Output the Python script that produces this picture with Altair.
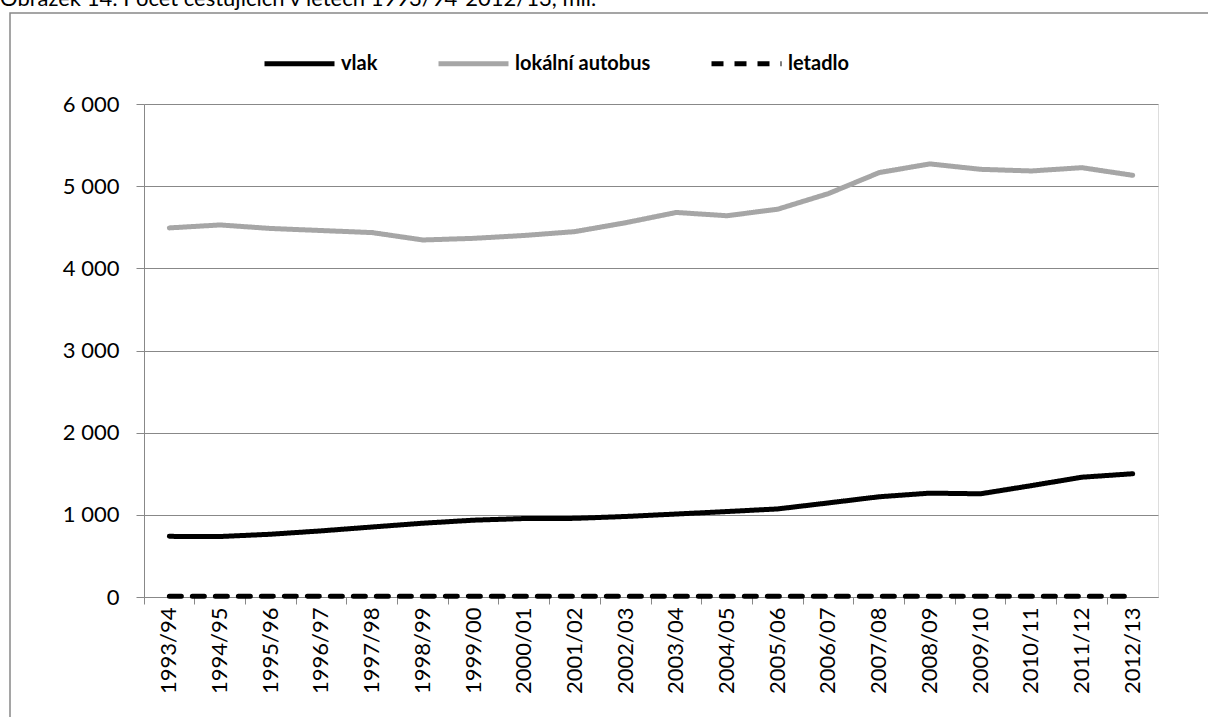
import altair as alt
import pandas as pd

seasons = ["1993/94", "1994/95", "1995/96", "1996/97", "1997/98", "1998/99",
           "1999/00", "2000/01", "2001/02", "2002/03", "2003/04", "2004/05",
           "2005/06", "2006/07", "2007/08", "2008/09", "2009/10", "2010/11",
           "2011/12", "2012/13"]
vlak = [738, 736, 764, 805, 852, 898, 935, 955, 957, 980, 1010, 1040,
        1072, 1145, 1220, 1264, 1256, 1355, 1458, 1500]
autobus = [4492, 4528, 4485, 4460, 4435, 4345, 4365, 4400, 4447, 4555,
           4680, 4640, 4720, 4910, 5165, 5271, 5205, 5185, 5225, 5132]
letadlo = [8, 8, 8, 9, 9, 9, 10, 10, 10, 10, 10, 10, 10, 10, 10, 10,
           9, 9, 9, 9]
series = ["vlak", "lokální autobus", "letadlo"]
title_text = "Obrázek 14: Počet cestujících v letech 1993/94-2012/13, mil."
y_ticks = [0, 1000, 2000, 3000, 4000, 5000, 6000]

rows = []
for name, vals in zip(series, [vlak, autobus, letadlo]):
    for s, v in zip(seasons, vals):
        rows.append({"rok": s, "serie": name, "hodnota": v})
df = pd.DataFrame(rows)

W, H = 1014, 493
FONT = "Lato"
GRAY = "#888888"

xscale = alt.Scale(type="band", domain=seasons, paddingInner=0, paddingOuter=0)
legend = alt.Legend(
    title=None, orient="none", legendX=118, legendY=-78, direction="horizontal",
    symbolType="stroke", symbolSize=4900, symbolStrokeWidth=5,
    labelFont=FONT, labelFontSize=20, labelFontWeight="bold", labelColor="black",
    labelOffset=4, columnPadding=50, padding=0,
)

lines = alt.Chart(df).mark_line(strokeWidth=5, strokeCap="round", strokeJoin="round").encode(
    x=alt.X("rok:N", scale=xscale, sort=seasons,
            axis=alt.Axis(title=None, orient="bottom", labelAngle=270, labelFont=FONT,
                          labelFontSize=22, labelColor="black", labelPadding=10, ticks=False,
                          domain=True, domainColor=GRAY, domainWidth=1, grid=False)),
    y=alt.Y("hodnota:Q", scale=alt.Scale(domain=[0, 6000], nice=False),
            axis=alt.Axis(title=None, values=y_ticks, labelFont=FONT, labelFontSize=22,
                          labelColor="black", labelPadding=17, tickSize=8,
                          tickColor=GRAY, domainColor=GRAY, gridColor=GRAY,
                          gridWidth=1, labelExpr="replace(format(datum.value, ','), ',', ' ')")),
    color=alt.Color("serie:N", scale=alt.Scale(domain=series, range=["#000000", "#A6A6A6", "#000000"]),
                    legend=legend, sort=series),
    strokeDash=alt.StrokeDash("serie:N", scale=alt.Scale(domain=series, range=[[1, 0], [1, 0], [12, 11]]),
                              legend=legend, sort=series),
    order=alt.Order("rok:N"),
)

ticks = alt.Chart(df).mark_point(opacity=0).encode(
    x=alt.X("rok:N", scale=xscale, sort=seasons,
            axis=alt.Axis(title=None, orient="bottom", labels=False, ticks=True, tickSize=7,
                          tickColor=GRAY, bandPosition=0, domain=False, grid=False)),
    y=alt.Y("hodnota:Q"),
)

dummy = pd.DataFrame({"t": [title_text]})
title = alt.Chart(dummy).mark_text(align="left", baseline="alphabetic", font=FONT,
                                   fontSize=22, color="black").encode(
    x=alt.value(-144), y=alt.value(-98), text="t:N")
border = alt.Chart(dummy).mark_rect(fillOpacity=0, stroke=GRAY, strokeWidth=1.5).encode(
    x=alt.value(-134), x2=alt.value(1150), y=alt.value(-91), y2=alt.value(700))

chart = alt.layer(border, title, ticks, lines).resolve_axis(x="independent").properties(
    width=W, height=H,
    autosize=alt.AutoSizeParams(type="none"),
    padding={"left": 144, "top": 104, "right": 50, "bottom": 120},
).configure_view(stroke=None).configure(background="white")

chart.save("out.html", embed_options={"renderer": "svg", "actions": False})
